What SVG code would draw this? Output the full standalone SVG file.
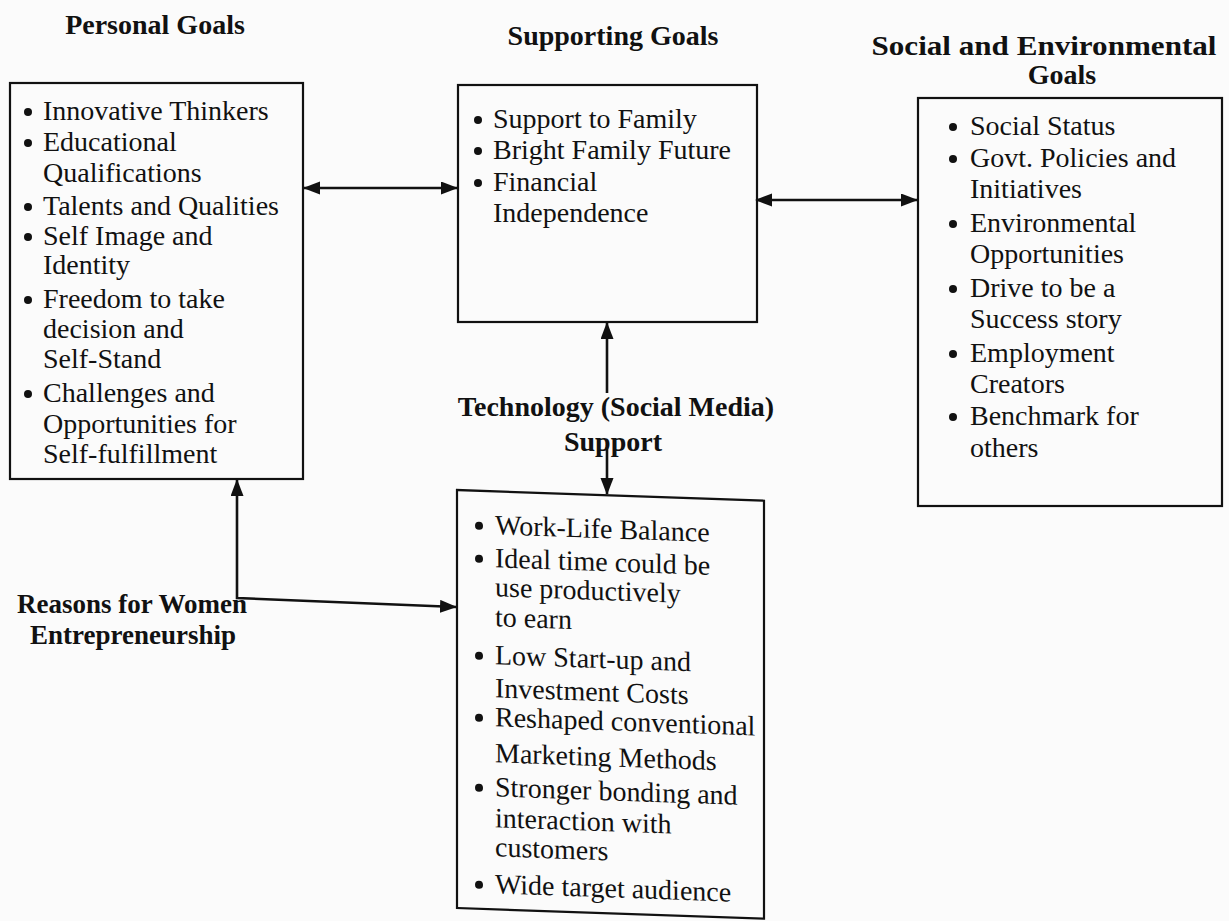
<svg xmlns="http://www.w3.org/2000/svg" width="1229" height="921" viewBox="0 0 1229 921">
<style>
.box{fill:none;stroke:#111;stroke-width:2.2}
.t{font-family:"Liberation Serif","Times New Roman",serif;font-size:28px;fill:#111}
.h{font-family:"Liberation Serif","Times New Roman",serif;font-size:28px;font-weight:bold;fill:#111;text-anchor:middle}
.b{fill:#111}
.c{fill:none;stroke:#111;stroke-width:2.6}
</style>
<defs>
<marker id="ah" markerUnits="userSpaceOnUse" markerWidth="18" markerHeight="14" refX="16" refY="6.5" orient="auto-start-reverse">
<path d="M0,0 L17,6.5 L0,13 Z" fill="#111"/>
</marker>
</defs>
<rect width="1229" height="921" fill="#fbfbfb"/>

<g id="personal-goals">
<text class="h" x="155" y="34">Personal Goals</text>
<rect class="box" x="10" y="83" width="293" height="396"/>
<circle class="b" cx="28" cy="112" r="4"/>
<circle class="b" cx="28" cy="143" r="4"/>
<circle class="b" cx="28" cy="207" r="4"/>
<circle class="b" cx="28" cy="237" r="4"/>
<circle class="b" cx="28" cy="300" r="4"/>
<circle class="b" cx="28" cy="394" r="4"/>
<text class="t" x="43" y="120">Innovative Thinkers</text>
<text class="t" x="43" y="151">Educational</text>
<text class="t" x="43" y="182">Qualifications</text>
<text class="t" x="43" y="215">Talents and Qualities</text>
<text class="t" x="43" y="245">Self Image and</text>
<text class="t" x="43" y="274">Identity</text>
<text class="t" x="43" y="308">Freedom to take</text>
<text class="t" x="43" y="338">decision and</text>
<text class="t" x="43" y="368">Self-Stand</text>
<text class="t" x="43" y="402">Challenges and</text>
<text class="t" x="43" y="433">Opportunities for</text>
<text class="t" x="43" y="463">Self-fulfillment</text>
</g>

<g id="supporting-goals">
<text class="h" x="613" y="45">Supporting Goals</text>
<rect class="box" x="458" y="85" width="299" height="237"/>
<circle class="b" cx="478" cy="120" r="4"/>
<circle class="b" cx="478" cy="151" r="4"/>
<circle class="b" cx="478" cy="183" r="4"/>
<text class="t" x="493" y="128">Support to Family</text>
<text class="t" x="493" y="159">Bright Family Future</text>
<text class="t" x="493" y="191">Financial</text>
<text class="t" x="493" y="222">Independence</text>
</g>

<g id="social-environmental-goals">
<text class="h" x="1044" y="55" textLength="345" lengthAdjust="spacingAndGlyphs">Social and Environmental</text>
<text class="h" x="1062" y="84">Goals</text>
<rect class="box" x="918" y="98" width="304" height="408"/>
<circle class="b" cx="953" cy="127" r="4"/>
<circle class="b" cx="953" cy="159" r="4"/>
<circle class="b" cx="953" cy="224" r="4"/>
<circle class="b" cx="953" cy="289" r="4"/>
<circle class="b" cx="953" cy="354" r="4"/>
<circle class="b" cx="953" cy="417" r="4"/>
<text class="t" x="970" y="135">Social Status</text>
<text class="t" x="970" y="167">Govt. Policies and</text>
<text class="t" x="970" y="198">Initiatives</text>
<text class="t" x="970" y="232">Environmental</text>
<text class="t" x="970" y="263">Opportunities</text>
<text class="t" x="970" y="297">Drive to be a</text>
<text class="t" x="970" y="328">Success story</text>
<text class="t" x="970" y="362">Employment</text>
<text class="t" x="970" y="393">Creators</text>
<text class="t" x="970" y="425">Benchmark for</text>
<text class="t" x="970" y="457">others</text>
</g>

<g id="technology-support">
<text class="h" x="616" y="416">Technology (Social Media)</text>
<text class="h" x="613" y="451">Support</text>
</g>

<g id="reasons">
<text class="h" x="132" y="613" style="font-size:27px">Reasons for Women</text>
<text class="h" x="133" y="644" style="font-size:27px">Entrepreneurship</text>
</g>

<g id="tech-benefits" transform="matrix(1,0.0349,0,1,0,-15.95)">
<rect class="box" x="457" y="490" width="307" height="418"/>
<circle class="b" cx="479" cy="525" r="4"/>
<circle class="b" cx="479" cy="558" r="4"/>
<circle class="b" cx="479" cy="655" r="4"/>
<circle class="b" cx="479" cy="717" r="4"/>
<circle class="b" cx="479" cy="787" r="4"/>
<circle class="b" cx="479" cy="884" r="4"/>
<text class="t" x="495" y="533">Work-Life Balance</text>
<text class="t" x="495" y="566">Ideal time could be</text>
<text class="t" x="495" y="595">use productively</text>
<text class="t" x="495" y="625">to earn</text>
<text class="t" x="495" y="663">Low Start-up and</text>
<text class="t" x="495" y="696">Investment Costs</text>
<text class="t" x="495" y="725">Reshaped conventional</text>
<text class="t" x="495" y="761">Marketing Methods</text>
<text class="t" x="495" y="795">Stronger bonding and</text>
<text class="t" x="495" y="826">interaction with</text>
<text class="t" x="495" y="855">customers</text>
<text class="t" x="495" y="892">Wide target audience</text>
</g>

<g id="connectors">
<line class="c" x1="304" y1="188" x2="457" y2="188" marker-start="url(#ah)" marker-end="url(#ah)"/>
<line class="c" x1="756" y1="200" x2="917" y2="200" marker-start="url(#ah)" marker-end="url(#ah)"/>
<line class="c" x1="607" y1="393" x2="607" y2="323" marker-end="url(#ah)"/>
<line class="c" x1="607" y1="447" x2="607" y2="494" marker-end="url(#ah)"/>
<path class="c" d="M456,607 L237,598 L237,480" marker-start="url(#ah)" marker-end="url(#ah)"/>
</g>
</svg>
